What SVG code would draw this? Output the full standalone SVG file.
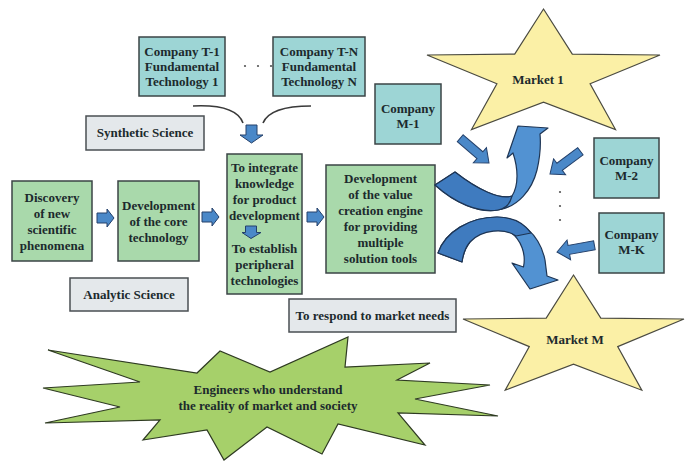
<svg xmlns="http://www.w3.org/2000/svg" xmlns:xlink="http://www.w3.org/1999/xlink" width="685" height="461" viewBox="0 0 685 461">
  <style>
    text { font-family: "Liberation Serif", "Times New Roman", serif; font-weight: bold; font-size: 13px; fill: #1c2a2d; text-anchor: middle; }
    .tech { fill: #9dd5d5; stroke: #3b4446; stroke-width: 1.5; }
    .step { fill: #a9d9ab; stroke: #3b4446; stroke-width: 1.5; }
    .label { fill: #e4e8eb; stroke: #4a4f53; stroke-width: 1.5; }
    .market { fill: #fbf0a6; stroke: #4a4a40; stroke-width: 1.2; }
    .burst { fill: #a6d06a; stroke: #2e3a22; stroke-width: 1.2; }
    .blk { fill: #4a88c8; stroke: #24406a; stroke-width: 1; }
    .curve { fill: #5292d2; stroke: #1e3554; stroke-width: 1.2; stroke-linejoin: round; }
    .curve-back { fill: #3f7bbf; stroke: #1e3554; stroke-width: 1.2; stroke-linejoin: round; }
    .thin { fill: none; stroke: #3a3a3a; stroke-width: 1.6; }
    .dot { fill: #555; }
  </style>
  <defs>
    <!-- block arrows, tip at the origin, pointing along +x -->
    <path id="arrow-h" d="M-17,-5 H-7 V-9 L0,0 L-7,9 V5 H-17 Z"/>
    <path id="arrow-down" d="M-18,-5.5 H-8 V-11.5 L0,0 L-8,11.5 V5.5 H-18 Z"/>
    <path id="arrow-in" d="M-38,-4.5 H-12 V-10 L0,0 L-12,10 V4.5 H-38 Z"/>
  </defs>

  <!-- markets -->
  <g id="market-1">
    <polygon class="market" points="543.5,9 572.3,54.1 660,55 590.1,83.8 615.5,129.5 543.5,102.2 471.5,129.5 496.9,83.8 427,55 514.7,54.1"/>
    <text x="538" y="84">Market 1</text>
  </g>
  <g id="market-m">
    <polygon class="market" points="573.5,275 600.8,318.1 684,319 617.7,346.6 641.8,390.2 573.5,364.2 505.2,390.2 529.3,346.6 463,319 546.2,318.1"/>
    <text x="575" y="344">Market M</text>
  </g>

  <!-- engineers -->
  <g id="engineers">
    <polygon class="burst" points="48,350 197,373 220,351 270,372 348,337 345,367 430,363 397,380 490,385 415,399 498,416 398,413 425,445 338,424 322,454 267,427 224,460 207,430 143,440 160,420 45,423 120,407 43,388 140,382"/>
    <text x="268" y="394">Engineers who understand</text>
    <text x="268" y="410">the reality of market and society</text>
  </g>

  <!-- fundamental technologies -->
  <g id="company-t1">
    <rect class="tech" x="139" y="37" width="86" height="59"/>
    <text x="182" y="56">Company  T-1</text>
    <text x="182" y="71">Fundamental</text>
    <text x="182" y="86">Technology 1</text>
  </g>
  <g id="company-tn">
    <rect class="tech" x="273" y="37" width="92" height="59"/>
    <text x="319" y="56">Company  T-N</text>
    <text x="319" y="71">Fundamental</text>
    <text x="319" y="86">Technology N</text>
  </g>

  <g id="synthetic-science">
    <rect class="label" x="86" y="116" width="118" height="34"/>
    <text x="145" y="137">Synthetic Science</text>
  </g>
  <g id="analytic-science">
    <rect class="label" x="70" y="278" width="118" height="33"/>
    <text x="129" y="299">Analytic Science</text>
  </g>

  <!-- main chain -->
  <g id="discovery">
    <rect class="step" x="12" y="181" width="80" height="80"/>
    <text x="52" y="202">Discovery</text>
    <text x="52" y="218">of new</text>
    <text x="52" y="234">scientific</text>
    <text x="52" y="250">phenomena</text>
  </g>
  <g id="core-technology">
    <rect class="step" x="118" y="181" width="81" height="80"/>
    <text x="158.5" y="210">Development</text>
    <text x="158.5" y="226">of the core</text>
    <text x="158.5" y="242">technology</text>
  </g>
  <g id="integration">
    <rect class="step" x="227" y="154" width="75" height="140"/>
    <text x="264.5" y="172">To integrate</text>
    <text x="264.5" y="188">knowledge</text>
    <text x="264.5" y="204">for product</text>
    <text x="264.5" y="220">development</text>
    <text x="264.5" y="253">To establish</text>
    <text x="264.5" y="269">peripheral</text>
    <text x="264.5" y="285">technologies</text>
  </g>
  <g id="value-engine">
    <rect class="step" x="326" y="165" width="109" height="108"/>
    <text x="380.5" y="183">Development</text>
    <text x="380.5" y="199">of the value</text>
    <text x="380.5" y="215">creation engine</text>
    <text x="380.5" y="231">for providing</text>
    <text x="380.5" y="247">multiple</text>
    <text x="380.5" y="263">solution tools</text>
  </g>

  <g id="market-needs">
    <rect class="label" x="289" y="299" width="167" height="33"/>
    <text x="372.5" y="320">To respond to market needs</text>
  </g>

  <!-- companies on the market side -->
  <g id="company-m1">
    <rect class="tech" x="375" y="84" width="66" height="60"/>
    <text x="408" y="113">Company</text>
    <text x="408" y="128">M-1</text>
  </g>
  <g id="company-m2">
    <rect class="tech" x="594" y="138" width="65" height="60"/>
    <text x="626.5" y="165">Company</text>
    <text x="626.5" y="180">M-2</text>
  </g>
  <g id="company-mk">
    <rect class="tech" x="599" y="213" width="65" height="60"/>
    <text x="631.5" y="239">Company</text>
    <text x="631.5" y="254">M-K</text>
  </g>

  <!-- ellipsis marks -->
  <g id="ellipses">
    <circle class="dot" cx="245" cy="66" r="1.1"/>
    <circle class="dot" cx="258" cy="66" r="1.1"/>
    <circle class="dot" cx="271" cy="66" r="1.1"/>
    <circle class="dot" cx="560" cy="192" r="1.1"/>
    <circle class="dot" cx="560" cy="206" r="1.1"/>
    <circle class="dot" cx="560" cy="220" r="1.1"/>
  </g>

  <g id="connectors">
    <!-- technologies merging into integration -->
    <path class="thin" d="M193,106 Q236,104 243,123"/>
    <path class="thin" d="M311,106 Q270,106 263,123"/>
    <use class="blk" xlink:href="#arrow-down" transform="translate(251.5,143) rotate(90)"/>
    <!-- inside the integration step -->
    <path class="blk" d="M245.5,226 H256.5 V232.5 H261 L251,238.5 L242,232.5 H245.5 Z"/>
    <!-- chain arrows -->
    <use class="blk" xlink:href="#arrow-h" transform="translate(114,218)"/>
    <use class="blk" xlink:href="#arrow-h" transform="translate(219,217)"/>
    <use class="blk" xlink:href="#arrow-h" transform="translate(324,217)"/>
    <!-- company inputs -->
    <use class="blk" xlink:href="#arrow-in" transform="translate(489,163) rotate(40.8)"/>
    <use class="blk" xlink:href="#arrow-in" transform="translate(550,174) rotate(143.1)"/>
    <use class="blk" xlink:href="#arrow-in" transform="translate(557,252) rotate(169.8)"/>
    <!-- curved arrow up to Market 1 -->
    <path class="curve" d="M435,185 C455,203 478,213 498,210 C518,207 532,190 537,170 C540,157 541,145 540,134 L548,128 L518,126 L507,158 L513,153 C518,168 519,185 512,196 C500,200 478,190 455,172 Z"/>
    <path class="curve-back" d="M435,185 C455,203 478,213 498,210 C505,209 510,204 512,196 C500,200 478,190 455,172 Z"/>
    <!-- curved arrow down to Market M -->
    <path class="curve" d="M438,253 C445,232 470,217 497,217 C520,217 540,235 545,260 L547,276 L558,280 L530,289 L512,263 L523.5,267 C526,255 522,240 510,232 C498,226 478,230 470,242 C465,248 463,255 462,262 Z"/>
    <path class="curve-back" d="M438,253 C445,232 470,217 497,217 C512,217 524,223 531,233 L516,236 C505,228 482,229 470,242 C465,248 463,255 462,262 Z"/>
  </g>
</svg>
